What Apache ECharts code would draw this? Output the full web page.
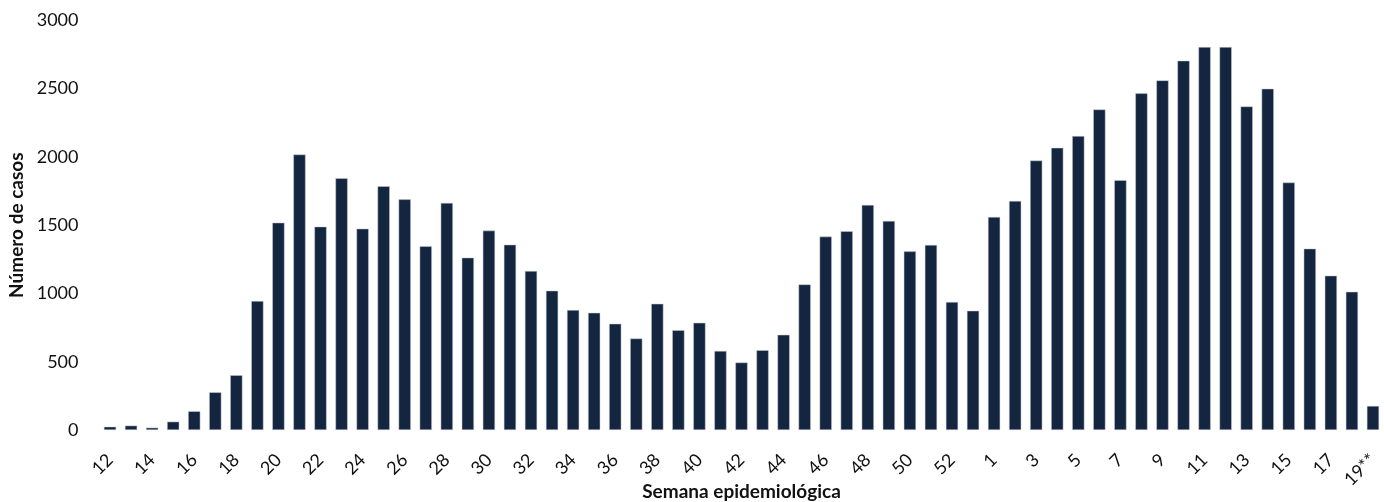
<!DOCTYPE html>
<html>
<head>
<meta charset="utf-8">
<script src="https://cdn.jsdelivr.net/npm/echarts@6/dist/echarts.min.js"></script>
<style>
html,body{margin:0;padding:0;background:#fff;}
#chart{width:1384px;height:502px;}
</style>
</head>
<body>
<div id="chart"></div>
<script>
const weeks = ['12','13','14','15','16','17','18','19','20','21','22','23','24','25','26','27','28','29','30','31','32','33','34','35','36','37','38','39','40','41','42','43','44','45','46','47','48','49','50','51','52','53','1','2','3','4','5','6','7','8','9','10','11','12','13','14','15','16','17','18','19**'];
const cases = [24,32,17,61,137,276,401,944,1518,2017,1489,1843,1474,1785,1689,1345,1663,1262,1460,1357,1164,1020,878,858,778,670,924,731,785,579,494,584,697,1066,1416,1455,1648,1531,1308,1355,937,873,1560,1677,1973,2066,2152,2347,1829,2465,2560,2704,2804,2804,2369,2499,1812,1328,1130,1012,176];
const yTicks = { min: 0, max: 3000, interval: 500 };
const xTitle = 'Semana epidemiológica';
const yTitle = 'Número de casos';

const font = 'Lato, "Open Sans", sans-serif';
const chart = echarts.init(document.getElementById('chart'));
chart.setOption({
  animation: false,
  grid: { left: 99.5, right: 0.5, top: 20.3, bottom: 72, outerBoundsMode: 'none', containLabel: false },
  xAxis: {
    type: 'category',
    data: weeks.map((w, i) => ({ value: i + '', label: w })),
    axisLine: { show: false },
    axisTick: { show: false },
    axisLabel: {
      interval: 1,
      rotate: 45,
      margin: 27,
      fontSize: 18,
      color: '#111',
      fontFamily: font,
      formatter: (v) => weeks[+v]
    },
    name: xTitle,
    nameLocation: 'middle',
    nameGap: 52,
    nameMoveOverlap: false,
    nameTextStyle: { fontSize: 19, fontWeight: 'bold', color: '#111', fontFamily: font }
  },
  yAxis: {
    type: 'value',
    min: yTicks.min,
    max: yTicks.max,
    interval: yTicks.interval,
    splitLine: { show: false },
    axisLine: { show: false },
    axisTick: { show: false },
    axisLabel: { fontSize: 18, color: '#111', margin: 21, fontFamily: font, formatter: (v) => String(v) },
    name: yTitle,
    nameLocation: 'middle',
    nameGap: 73,
    nameMoveOverlap: false,
    nameTextStyle: { fontSize: 19, fontWeight: 'bold', color: '#111', fontFamily: font }
  },
  series: [{
    type: 'bar',
    data: cases,
    barCategoryGap: '42%',
    itemStyle: { color: '#13253f', borderColor: '#c8ccd4', borderWidth: 0.5 }
  }]
});
</script>
</body>
</html>
